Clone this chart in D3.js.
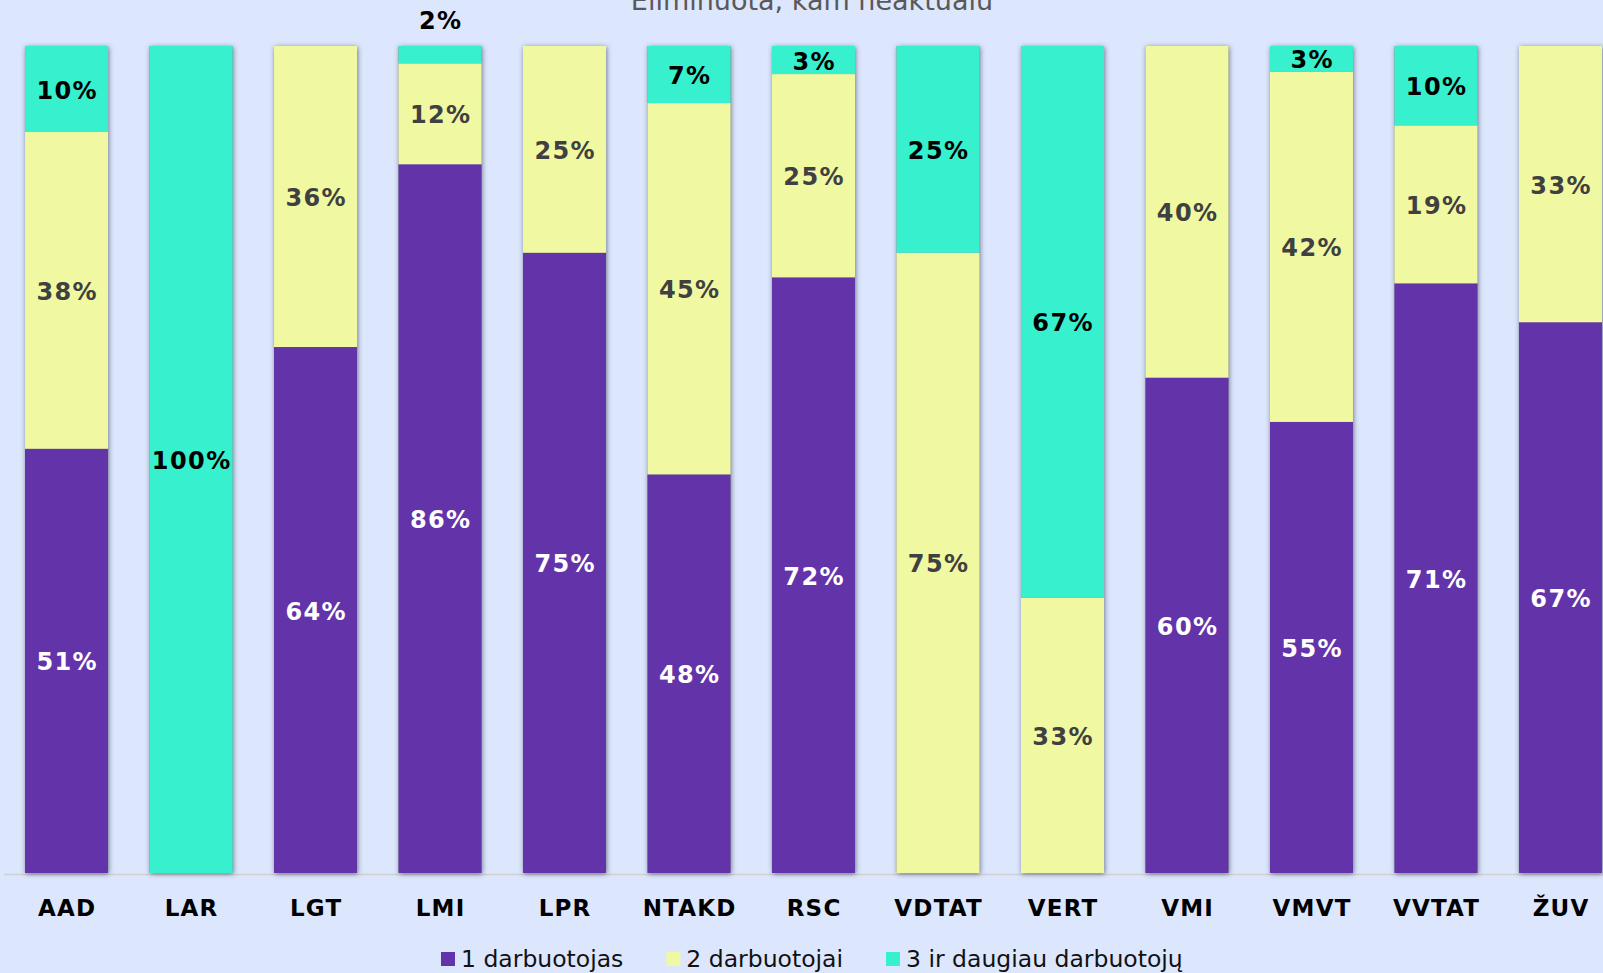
<!DOCTYPE html>
<html>
<head>
<meta charset="utf-8">
<script src="https://cdn.jsdelivr.net/npm/d3@7"></script>
<style>
  html, body { margin: 0; padding: 0; background: #dce6fd; overflow: hidden; }
  svg { display: block; font-family: 'DejaVu Sans', Verdana, sans-serif; }
</style>
</head>
<body>
<div id="chart"></div>
<script>
const categories = ['AAD', 'LAR', 'LGT', 'LMI', 'LPR', 'NTAKD', 'RSC', 'VDTAT', 'VERT', 'VMI', 'VMVT', 'VVTAT', 'ŽUV']
const oneWorker = [51.3, 0, 63.6, 85.7, 75.0, 48.2, 72.1, 0, 0, 59.9, 54.6, 71.3, 66.6]
const twoWorkers = [38.3, 0, 36.4, 12.2, 25.0, 44.9, 24.6, 75.0, 33.3, 40.1, 42.4, 19.1, 33.4]
const threePlus = [10.4, 100, 0, 2.1, 0, 6.9, 3.4, 25.0, 66.7, 0, 3.1, 9.6, 0]
const seriesNames = ['1 darbuotojas', '2 darbuotojai', '3 ir daugiau darbuotojų']
const title = 'Eliminuota, kam neaktualu'

const colors = ['#6333aa', '#f0f8a2', '#36f0ce']
const labelColors = ['#ffffff', '#404040', '#000000']

const width = 1603
const height = 973
const keys = ['s0', 's1', 's2']

const rows = categories.map((c, i) => ({
  cat: c, s0: oneWorker[i], s1: twoWorkers[i], s2: threePlus[i]
}))

const stacked = d3.stack()
  .keys(keys)
  .offset(d3.stackOffsetExpand)(rows)

const x = d3.scaleBand()
  .domain(categories)
  .range([4, 1623])
  .paddingInner(1 / 3)
  .paddingOuter(0.169)

const y = d3.scaleLinear()
  .domain([0, 1])
  .range([873, 46])

const svg = d3.select('#chart')
  .append('svg')
  .attr('width', width)
  .attr('height', height)

/* bar shadow */
const defs = svg.append('defs')
defs.append('filter')
  .attr('id', 'shadow')
  .attr('x', '-20%').attr('y', '-5%')
  .attr('width', '140%').attr('height', '110%')
  .append('feDropShadow')
  .attr('dx', 0.8)
  .attr('dy', 1)
  .attr('stdDeviation', 2.6)
  .attr('flood-color', '#3e4458')
  .attr('flood-opacity', 0.7)

/* title (partly off the top edge, as in the source) */
svg.append('text')
  .attr('x', 812)
  .attr('y', 10)
  .attr('text-anchor', 'middle')
  .attr('font-size', 27)
  .attr('fill', '#595959')
  .text(title)

/* axis line */
svg.append('line')
  .attr('x1', 4).attr('x2', width)
  .attr('y1', y(0) + 1.5).attr('y2', y(0) + 1.5)
  .attr('stroke', '#d0d0d4')
  .attr('stroke-width', 1.5)

/* shadow backing per category */
svg.append('g')
  .selectAll('rect')
  .data(categories)
  .join('rect')
  .attr('x', d => x(d))
  .attr('y', y(1))
  .attr('width', x.bandwidth())
  .attr('height', y(0) - y(1))
  .attr('fill', '#888')
  .attr('filter', 'url(#shadow)')

/* segments */
const layers = svg.append('g')
  .selectAll('g')
  .data(stacked)
  .join('g')
  .attr('fill', (d, i) => colors[i])

layers.selectAll('rect')
  .data(d => d)
  .join('rect')
  .attr('x', d => x(d.data.cat))
  .attr('y', d => y(d[1]))
  .attr('width', x.bandwidth())
  .attr('height', d => y(d[0]) - y(d[1]))

/* data labels */
const labelGroup = svg.append('g')
  .attr('text-anchor', 'middle')
  .attr('font-weight', 'bold')
  .attr('font-size', 24)
  .attr('letter-spacing', 1.4)

stacked.forEach((layer, si) => {
  layer.forEach(d => {
    const v = d.data[keys[si]]
    if (!v) return
    const small = v < 2.5
    const cy = small ? y(1) - 26.5 : (y(d[0]) + y(d[1])) / 2
    labelGroup.append('text')
      .attr('x', x(d.data.cat) + x.bandwidth() / 2 + 0.7)
      .attr('y', cy)
      .attr('dy', '0.4em')
      .attr('fill', small ? '#000' : labelColors[si])
      .text(Math.round(v) + '%')
  })
})

/* category labels */
svg.append('g')
  .selectAll('text')
  .data(categories)
  .join('text')
  .attr('x', d => x(d) + x.bandwidth() / 2 + 0.6)
  .attr('y', 915.5)
  .attr('text-anchor', 'middle')
  .attr('font-weight', 'bold')
  .attr('font-size', 23)
  .attr('letter-spacing', 1.2)
  .attr('fill', '#000')
  .text(d => d)

/* legend */
const legend = svg.append('g')
let lx = 441
seriesNames.forEach((name, i) => {
  legend.append('rect')
    .attr('x', lx)
    .attr('y', 952)
    .attr('width', 14)
    .attr('height', 14)
    .attr('fill', colors[i])
  const t = legend.append('text')
    .attr('x', lx + 20)
    .attr('y', 967)
    .attr('font-size', 23.5)
    .attr('fill', '#111')
    .text(name)
  lx += 20 + t.node().getComputedTextLength() + 43
})
</script>
</body>
</html>
